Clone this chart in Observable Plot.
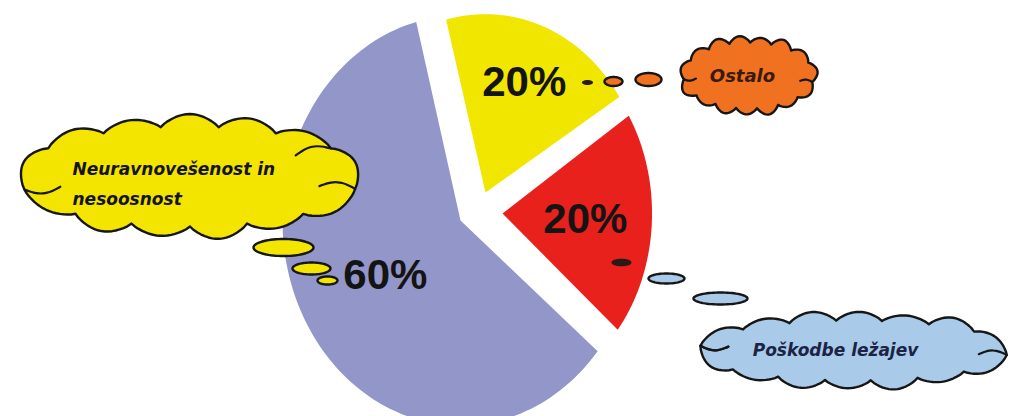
<!DOCTYPE html>
<html>
<head>
<meta charset="utf-8">
<script src="https://cdn.jsdelivr.net/npm/d3@7"></script>
<script src="https://cdn.jsdelivr.net/npm/@observablehq/plot@0.6"></script>
<style>
  html, body { margin: 0; padding: 0; background: #ffffff; overflow: hidden; }
</style>
</head>
<body>
<div id="chart"></div>
<script>
// ---- data ----
const categories = ["Ostalo", "Poškodbe ležajev", "Neuravnovešenost in nesoosnost"];
const values = [20, 20, 60];
const cloudLabels = ["Ostalo", "Poškodbe ležajev", "Neuravnovešenost in\nnesoosnost"];

// ---- style / layout ----
const sliceColors = ["#f1e600", "#e8211d", "#9396c9"];
const cloudColors = ["#f0711f", "#a9cbe9", "#f3e500"];
const cloudTextColors = ["#3a1a0e", "#1c2346", "#141414"];
const pie = {cx: 460, cy: 220, rx: 178, ry: 205, startTurn: -0.04};
const sliceStyle = [
  {dx: 25, dy: -28, kx: 0.89, ky: 0.87, lf: 0.665},
  {dx: 42, dy: -7, kx: 0.84, ky: 0.89, lf: 0.555},
  {dx: 0, dy: 0, kx: 1, ky: 1, lf: 0.5}
];
const cloudLayout = [
  {cx: 748, cy: 75, rx: 72, ry: 40, n: 15, bh: 7, phase: 0.2, folds: [Math.PI - 0.1, 0.15], foldLen: 12, tx: 742, ty: 71, size: 18, anchor: "middle", line: "middle"},
  {cx: 853, cy: 350, rx: 164, ry: 39, n: 14, bh: 9, phase: 0.15, folds: [Math.PI - 0.1, 0.2, -2.7], foldLen: 28, tx: 835, ty: 346, size: 17, anchor: "middle", line: "middle"},
  {cx: 189, cy: 176, rx: 183, ry: 62, n: 13, bh: 12, phase: 0.25, folds: [Math.PI - 0.2, 0.25, -0.62], foldLen: 36, tx: 72, ty: 153, size: 17, anchor: "start", line: "top"}
];
const bubbleLayout = [
  [{cx: 613, cy: 81, rx: 9, ry: 4.5}, {cx: 648, cy: 79, rx: 13, ry: 6.5}],
  [{cx: 666, cy: 278, rx: 18, ry: 5}, {cx: 720, cy: 298, rx: 27, ry: 6}],
  [{cx: 283, cy: 247, rx: 30, ry: 8.5}, {cx: 311, cy: 268, rx: 19, ry: 6}, {cx: 327, cy: 280, rx: 10, ry: 4}]
];
const dashLayout = [{cx: 587, cy: 82, rx: 5.5, ry: 2.5}, {cx: 621, cy: 262, rx: 10, ry: 3.8}];
const bumpW = [1.0, 0.8, 1.15, 0.9, 1.05, 0.75, 1.2, 0.95, 0.85, 1.1];

// ---- geometry ----
const total = d3.sum(values);
const a0 = pie.startTurn * 2 * Math.PI;
const arcs = d3.pie().sort(null).startAngle(a0).endAngle(a0 + 2 * Math.PI)(values);

const slices = arcs.map((a, i) => {
  const s = sliceStyle[i];
  const tx = pie.cx + s.dx, ty = pie.cy + s.dy;
  const rx = pie.rx * s.kx, ry = pie.ry * s.ky;
  const pts = [{x: tx, y: ty}];
  const steps = 120;
  for (let j = 0; j <= steps; j++) {
    const t = a.startAngle + (a.endAngle - a.startAngle) * j / steps;
    pts.push({x: tx + rx * Math.sin(t), y: ty - ry * Math.cos(t)});
  }
  pts.push({x: tx, y: ty});
  const m = (a.startAngle + a.endAngle) / 2;
  return {
    pts,
    label: {x: tx + rx * s.lf * Math.sin(m), y: ty - ry * s.lf * Math.cos(m),
            text: Math.round(values[i] / total * 100) + "%"}
  };
});

function ellipsePts(e) {
  return d3.range(73).map(j => {
    const t = 2 * Math.PI * j / 72;
    return {x: e.cx + e.rx * Math.cos(t), y: e.cy + e.ry * Math.sin(t)};
  });
}

function cloudBase(c) {
  const bx = c.rx - c.bh, by = c.ry - c.bh;
  const N = 720, dense = [], cum = [0];
  for (let j = 0; j <= N; j++) {
    const t = c.phase + 2 * Math.PI * j / N;
    dense.push([c.cx + bx * Math.cos(t), c.cy + by * Math.sin(t)]);
    if (j > 0) cum.push(cum[j - 1] + Math.hypot(dense[j][0] - dense[j - 1][0], dense[j][1] - dense[j - 1][1]));
  }
  const base = [];
  let k = 0;
  for (let i = 0; i < c.n; i++) {
    const target = cum[N] * i / c.n;
    while (cum[k] < target) k++;
    base.push(dense[k]);
  }
  return base;
}

function cloudPts(c) {
  const base = cloudBase(c);
  const pts = [];
  for (let i = 0; i < c.n; i++) {
    const P = base[i], Q = base[(i + 1) % c.n];
    const dx = Q[0] - P[0], dy = Q[1] - P[1], L = Math.hypot(dx, dy);
    const nx = dy / L, ny = -dx / L;
    const h = c.bh * bumpW[i % bumpW.length];
    for (let j = 0; j <= 16; j++) {
      const t = j / 16, s = Math.pow(Math.sin(Math.PI * t), 0.8);
      pts.push({x: P[0] + dx * t + nx * h * s, y: P[1] + dy * t + ny * h * s});
    }
  }
  pts.push(pts[0]);
  return pts;
}

function foldPts(c) {
  const base = cloudBase(c);
  const bx = c.rx - c.bh, by = c.ry - c.bh;
  return c.folds.map(ang => {
    let best = 0, bd = Infinity;
    base.forEach((p, i) => {
      const a = Math.atan2((p[1] - c.cy) / by, (p[0] - c.cx) / bx);
      let d = Math.abs(a - ang); d = Math.min(d, 2 * Math.PI - d);
      if (d < bd) { bd = d; best = i; }
    });
    const J = base[best];
    let ix = c.cx - J[0], iy = c.cy - J[1];
    const L = Math.hypot(ix, iy); ix /= L; iy /= L;
    const f = c.foldLen;
    return d3.range(9).map(j => {
      const t = j / 8;
      return {x: J[0] + ix * f * t - iy * f * 0.15 * Math.sin(Math.PI * t),
              y: J[1] + iy * f * t + ix * f * 0.15 * Math.sin(Math.PI * t)};
    });
  });
}

const outline = {stroke: "#161616", strokeWidth: 2.4, strokeLinejoin: "round"};
const marks = [];

slices.forEach((s, i) => {
  marks.push(Plot.line(s.pts, {x: "x", y: "y", fill: sliceColors[i], stroke: "none", curve: "linear"}));
});

dashLayout.forEach(d => {
  marks.push(Plot.line(ellipsePts(d), {x: "x", y: "y", fill: "#2a1a14", stroke: "none"}));
});

cloudLayout.forEach((c, i) => {
  bubbleLayout[i].forEach(b => {
    marks.push(Plot.line(ellipsePts(b), {x: "x", y: "y", fill: cloudColors[i], ...outline}));
  });
  marks.push(Plot.line(cloudPts(c), {x: "x", y: "y", fill: cloudColors[i], ...outline}));
  foldPts(c).forEach(f => {
    marks.push(Plot.line(f, {x: "x", y: "y", stroke: "#161616", strokeWidth: 2.2, strokeLinecap: "round", curve: "basis"}));
  });
  marks.push(Plot.text([cloudLabels[i]], {
    x: () => c.tx, y: () => c.ty, text: d => d,
    textAnchor: c.anchor, lineAnchor: c.line, lineHeight: 1.76,
    fontFamily: "DejaVu Sans", fontWeight: "bold", fontStyle: "italic",
    fontSize: c.size, fill: cloudTextColors[i]
  }));
});

marks.push(Plot.text(slices.map(s => s.label), {
  x: "x", y: "y", text: "text",
  fontFamily: "Liberation Sans, Arial, sans-serif", fontWeight: "bold",
  fontSize: 42, fill: "#141414", textAnchor: "middle", lineAnchor: "middle"
}));

const chart = Plot.plot({
  width: 1021, height: 416, margin: 0,
  x: {domain: [0, 1021], range: [0, 1021], axis: null},
  y: {domain: [0, 416], range: [0, 416], axis: null},
  style: {background: "#ffffff"},
  marks
});
document.getElementById("chart").appendChild(chart);
</script>
</body>
</html>
